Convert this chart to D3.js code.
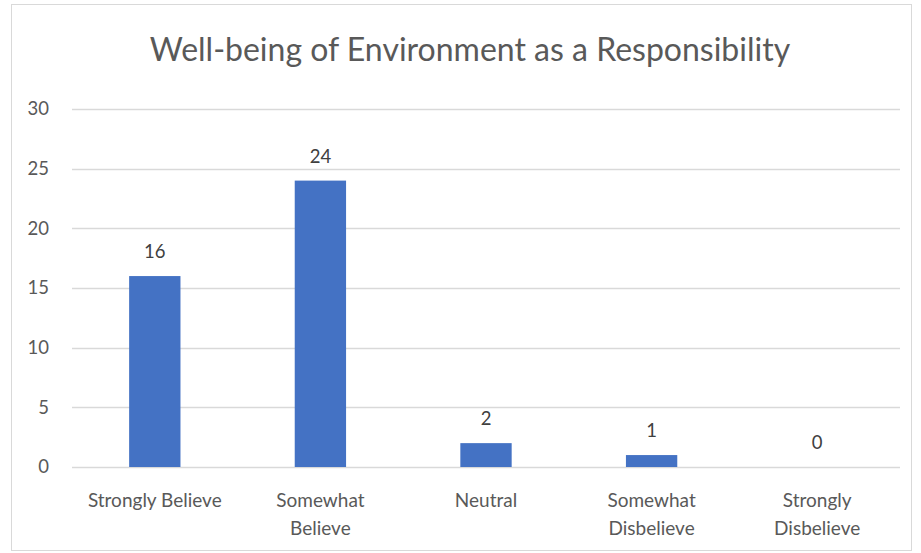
<!DOCTYPE html>
<html>
<head>
<meta charset="utf-8">
<script src="https://cdn.jsdelivr.net/npm/d3@7"></script>
<style>
  html, body { margin: 0; padding: 0; background: #fff; }
  svg { display: block; }
</style>
</head>
<body>
<svg id="chart" width="921" height="553"></svg>
<script>
const title = "Well-being of Environment as a Responsibility";
const categories = ["Strongly Believe", "Somewhat\nBelieve", "Neutral", "Somewhat\nDisbelieve", "Strongly\nDisbelieve"];
const values = [16, 24, 2, 1, 0];
const yTicks = [0, 5, 10, 15, 20, 25, 30];

const svg = d3.select("#chart");
const W = 921, H = 553;
const font = "Lato, 'Open Sans', sans-serif";
const textColor = "#595959";

svg.append("rect").attr("x", 0).attr("y", 0).attr("width", W).attr("height", H).attr("fill", "#fff");
svg.append("rect").attr("x", 11.5).attr("y", 4.5).attr("width", 900).attr("height", 546)
  .attr("fill", "#fff").attr("stroke", "#d9d9d9").attr("stroke-width", 1);

const plot = { left: 72, right: 900, top: 109, bottom: 467 };

const x = d3.scaleBand().domain(categories).range([plot.left, plot.right]).paddingInner(0.69).paddingOuter(0.345);
const y = d3.scaleLinear().domain([0, 30]).range([plot.bottom, plot.top]);

// gridlines
svg.append("g").selectAll("line").data(yTicks).join("line")
  .attr("x1", plot.left).attr("x2", plot.right)
  .attr("y1", d => Math.round(y(d)) + 0.5).attr("y2", d => Math.round(y(d)) + 0.5)
  .attr("stroke", "#d9d9d9").attr("stroke-width", 1.3);

// y axis labels
const yAxis = d3.axisLeft(y).tickValues(yTicks).tickSize(0).tickPadding(0);
const gy = svg.append("g").attr("transform", `translate(${plot.left - 23},0)`).call(yAxis);
gy.select(".domain").remove();
gy.selectAll("text").attr("font-family", font).attr("font-size", 18.5).attr("fill", textColor);

// bars
svg.append("g").selectAll("rect").data(values).join("rect")
  .attr("x", (d, i) => x(categories[i]))
  .attr("width", x.bandwidth())
  .attr("y", d => y(d))
  .attr("height", d => y(0) - y(d))
  .attr("fill", "#4472C4");

// data labels
svg.append("g").selectAll("text").data(values).join("text")
  .attr("x", (d, i) => x(categories[i]) + x.bandwidth() / 2)
  .attr("y", d => y(d) - 18)
  .attr("text-anchor", "middle")
  .attr("font-family", font).attr("font-size", 18.5).attr("fill", "#404040")
  .text(d => d);

// x labels
const xl = svg.append("g").selectAll("text").data(categories).join("text")
  .attr("x", d => x(d) + x.bandwidth() / 2)
  .attr("y", 507)
  .attr("text-anchor", "middle")
  .attr("font-family", font).attr("font-size", 19).attr("fill", textColor);
xl.each(function(d) {
  const lines = d.split("\n");
  d3.select(this).selectAll("tspan").data(lines).join("tspan")
    .attr("x", x(d) + x.bandwidth() / 2)
    .attr("dy", (l, i) => i === 0 ? 0 : 28)
    .text(l => l);
});

// title
svg.append("text").attr("x", 470).attr("y", 61).attr("text-anchor", "middle")
  .attr("font-family", font).attr("font-size", 32).attr("fill", textColor)
  .text(title);
</script>
</body>
</html>
